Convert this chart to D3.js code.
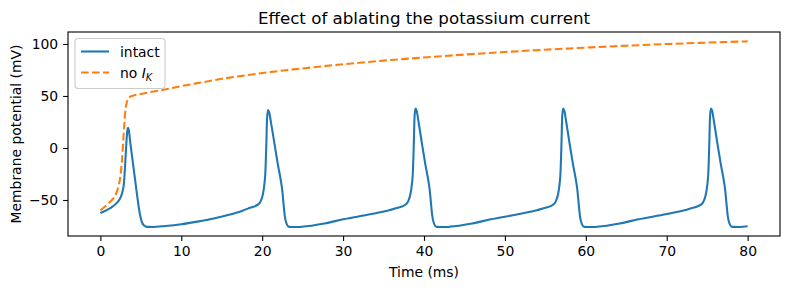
<!DOCTYPE html>
<html><head><meta charset="utf-8">
<script src="https://cdn.jsdelivr.net/npm/d3@7"></script>
<style>
html,body{margin:0;padding:0;background:#fff;}
svg{display:block;font-family:"DejaVu Sans",sans-serif;}
</style></head>
<body>
<svg id="chart" width="790" height="290"></svg>
<script>
const titleText = "Effect of ablating the potassium current";
const xLabel = "Time (ms)";
const yLabel = "Membrane potential (mV)";
const xTicks = [0,10,20,30,40,50,60,70,80];
const yTicks = [-50,0,50,100];

const timeIntact = [0,0.5,1.0,1.5,2.0,2.4,2.7,2.9,3.05,3.2,3.32,3.42,3.52,3.7,4.0,4.3,4.6,4.85,5.1,5.4,5.8,6.5,8.0,10.0,12.0,14.0,16.0,17.5,18.5,
 19.47,19.82,20.1,20.27,20.39,20.52,20.6,20.72,20.87,21.12,21.52,21.92,22.32,22.47,22.62,22.77,23.02,23.32,24.2,25.7,27.7,30.0,33.5,35.8,36.75,
 37.7,38.05,38.33,38.5,38.62,38.75,38.83,38.95,39.1,39.35,39.75,40.15,40.55,40.7,40.85,41.0,41.25,41.55,42.45,43.95,45.95,48.25,51.75,54.05,55.0,
 55.95,56.3,56.58,56.75,56.87,57.0,57.08,57.2,57.35,57.6,58.0,58.4,58.8,58.95,59.1,59.25,59.5,59.8,60.7,62.2,64.2,66.5,70.0,72.3,73.25,
 74.22,74.57,74.85,75.02,75.14,75.27,75.35,75.47,75.62,75.87,76.27,76.67,77.07,77.22,77.37,77.52,77.77,78.07,79.0,80.0];
const vIntact = [-62.5,-60.8,-58.8,-56.3,-53,-49,-43,-35,-18,3,16,19.5,17,5,-13,-31,-49,-62,-70.5,-74.5,-75.8,-75.9,-75,-73.3,-70.8,-67.8,-64,-60.5,-57.5,
 -54.5,-51,-44,-35,-24,6,28,36.5,34,23,4,-15,-32,-40,-52,-64,-73,-75.8,-76,-75,-72.5,-68.6,-63.5,-59.6,-57.5,
 -54.5,-51,-44,-35,-24,7,30,38,35.5,24,4,-15,-32,-40,-52,-64,-73,-75.8,-76,-75,-72.5,-68.6,-63.5,-59.6,-57.5,
 -54.5,-51,-44,-35,-24,7,30,38,35.5,24,4,-15,-32,-40,-52,-64,-73,-75.8,-76,-75,-72.5,-68.6,-63.5,-59.6,-57.5,
 -54.5,-51,-44,-35,-24,7,30,38,35.5,24,4,-15,-32,-40,-52,-64,-73,-75.8,-75.9,-75.3];

const timeNoIK = [0,0.4,0.8,1.2,1.6,2.0,2.2,2.4,2.55,2.7,2.85,2.98,3.1,3.25,3.45,3.7,4.1,5,6,7.5,10,12.5,15,17.5,20,25,30,35,40,45,50,55,60,65,70,75,80];
const vNoIK = [-60,-57.5,-54.8,-51.8,-48.5,-43,-38,-31,-22,-9,10,25,37,43.5,47.5,49.3,50.5,52,53.5,55.5,59.5,63,66.5,69.3,72,76.5,80.5,84,87,89.8,92.3,94.5,96.5,98.3,99.9,101.3,102.5];

const seriesNames = ["intact","no I_K"];
const seriesColors = ["#1f77b4","#ff7f0e"];

const svg = d3.select("#chart");
const L = 68, R = 780, T = 32, B = 236;
const x = d3.scaleLinear().domain([-4,84]).range([L,R]);
const y = d3.scaleLinear().domain([-84.6,111.5]).range([B,T]);

const plot = svg.append("g");
plot.append("defs").append("clipPath").attr("id","clip")
  .append("rect").attr("x",L).attr("y",T).attr("width",R-L).attr("height",B-T);

const line = d3.line().x(d=>x(d[0])).y(d=>y(d[1])).curve(d3.curveMonotoneX);
const intact = timeIntact.map((t,i)=>[t,vIntact[i]]);
const noIK = timeNoIK.map((t,i)=>[t,vNoIK[i]]);

const lines = plot.append("g").attr("clip-path","url(#clip)");
lines.append("path").datum(intact).attr("d",line).attr("fill","none")
  .attr("stroke",seriesColors[0]).attr("stroke-width",2.08).attr("stroke-linejoin","round").attr("stroke-linecap","butt");
lines.append("path").datum(noIK).attr("d",line).attr("fill","none")
  .attr("stroke",seriesColors[1]).attr("stroke-width",2.08).attr("stroke-dasharray","7.7,3.3").attr("stroke-linejoin","round");

// axes
const xAxis = d3.axisBottom(x).tickValues(xTicks).tickSize(4.9).tickPadding(4.9).tickFormat(d3.format("d"));
const yAxis = d3.axisLeft(y).tickValues(yTicks).tickSize(4.9).tickPadding(4.9).tickFormat(d=> d<0 ? "\u2212"+Math.abs(d) : String(d));
const gx = svg.append("g").attr("transform",`translate(0,${B})`).call(xAxis);
const gy = svg.append("g").attr("transform",`translate(${L},0)`).call(yAxis);
[gx,gy].forEach(g=>{
  g.select(".domain").remove();
  g.selectAll(".tick line").attr("stroke","#000").attr("stroke-width",1.1);
  g.selectAll(".tick text").attr("fill","#000").style("font-size","13.9px").style("font-family","DejaVu Sans");
});

// frame
svg.append("rect").attr("x",L).attr("y",T).attr("width",R-L).attr("height",B-T)
  .attr("fill","none").attr("stroke","#000").attr("stroke-width",1.1);

// labels
svg.append("text").attr("x",(L+R)/2).attr("y",24).attr("text-anchor","middle")
  .style("font-size","16.67px").text(titleText);
svg.append("text").attr("x",(L+R)/2).attr("y",277).attr("text-anchor","middle")
  .style("font-size","13.9px").text(xLabel);
svg.append("text").attr("transform",`translate(21,${(T+B)/2}) rotate(-90)`).attr("text-anchor","middle")
  .style("font-size","13.9px").text(yLabel);

// legend
const lg = svg.append("g");
lg.append("rect").attr("x",75).attr("y",38.5).attr("width",90).attr("height",50).attr("rx",3)
  .attr("fill","#fff").attr("fill-opacity",0.8).attr("stroke","#cccccc").attr("stroke-width",1.1);
lg.append("line").attr("x1",81).attr("x2",109).attr("y1",51.5).attr("y2",51.5)
  .attr("stroke",seriesColors[0]).attr("stroke-width",2.08);
lg.append("line").attr("x1",81).attr("x2",109).attr("y1",72.5).attr("y2",72.5)
  .attr("stroke",seriesColors[1]).attr("stroke-width",2.08).attr("stroke-dasharray","7.7,3.3");
lg.append("text").attr("x",120).attr("y",56.5).style("font-size","13.9px").text(seriesNames[0]);
const t2 = lg.append("text").attr("x",120).attr("y",77.5).style("font-size","13.9px");
t2.append("tspan").text("no ");
t2.append("tspan").style("font-style","italic").text("I");
t2.append("tspan").style("font-style","italic").style("font-size","9.7px").attr("dy",3).text("K");
</script>
</body></html>
